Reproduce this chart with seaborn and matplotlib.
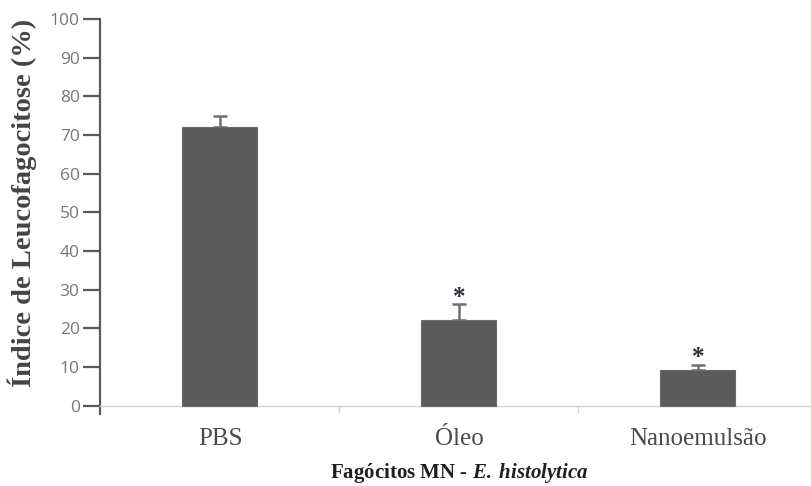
import numpy as np
import pandas as pd
import matplotlib
matplotlib.use("Agg")
import matplotlib.pyplot as plt
import seaborn as sns

# values
groups = ["PBS", "Óleo", "Nanoemulsão"]
means = [72.2, 22.2, 9.3]
errors = [2.8, 4.0, 1.2]
signif = ["", "*", "*"]
y_ticks = [0, 10, 20, 30, 40, 50, 60, 70, 80, 90, 100]

BAR = "#5b5b5b"
SERIF = ["Liberation Serif", "DejaVu Serif"]

sns.set_theme(style="white")
plt.rcParams["font.family"] = SERIF
plt.rcParams["mathtext.fontset"] = "custom"
plt.rcParams["mathtext.it"] = "Liberation Serif:italic:bold"
plt.rcParams["mathtext.rm"] = "Liberation Serif:bold"

df = pd.DataFrame({"grupo": groups, "indice": means})

fig = plt.figure(figsize=(8.11, 4.86), dpi=100)
ax = fig.add_axes([0.1239, 0.1477, 0.884, 0.8132])

sns.barplot(

    data=df, x="grupo", y="indice", order=groups,
    color=BAR, width=0.314, saturation=1, errorbar=None,
    edgecolor="#6a6a6a", linewidth=0.8, zorder=3, ax=ax,

)

x = np.arange(len(groups))
ax.errorbar(

    x, means, yerr=[np.zeros(len(errors)), errors], fmt="none",
    ecolor="#6e6e6e", elinewidth=1.8, capsize=5, capthick=1.8, zorder=2,

)

for xi, m, e, s in zip(x, means, errors, signif):

    if s:
        ax.text(xi, m + e + 0.2, s, ha="center", va="baseline",
                fontsize=18, fontweight="bold", color="#2b2f3a", zorder=4)

ax.set_xlim(-0.5, 2.5)
ax.set_ylim(-2.2, 100)
ax.set_yticks(y_ticks)

for lab in ax.get_yticklabels():
    lab.set_fontfamily(["Open Sans", "DejaVu Sans"])

ax.tick_params(axis="y", which="major", direction="out", length=12, width=1.6,
               color="#5a5a5a", labelsize=12.5, labelcolor="#777777", pad=3, left=True)
ax.tick_params(axis="x", which="major", length=0, labelsize=18, labelcolor="#4a4a4a", pad=16)
ax.set_xticks([0.5, 1.5], minor=True)
ax.tick_params(axis="x", which="minor", direction="out", length=5, width=1.0,
               color="#d4d4d4", bottom=True)

ax.spines["top"].set_visible(False)
ax.spines["right"].set_visible(False)
ax.spines["left"].set_color("#5a5a5a")
ax.spines["left"].set_linewidth(1.6)
ax.spines["left"].set_bounds(-2.2, 100)
ax.spines["bottom"].set_position(("data", 0))
ax.spines["bottom"].set_color("#d4d4d4")
ax.spines["bottom"].set_linewidth(1.0)

ax.set_ylabel("Índice de Leucofagocitose (%)", fontsize=20.5, fontweight="bold",
              color="#444444")
ax.yaxis.set_label_coords(-0.088, 0.534)
ax.set_xlabel(r"Fagócitos MN - $\mathit{E.\;histolytica}$", fontsize=15,
              fontweight="bold", color="#1e1e1e", labelpad=8)

fig.savefig("out.png", dpi=100)
plt.close(fig)
